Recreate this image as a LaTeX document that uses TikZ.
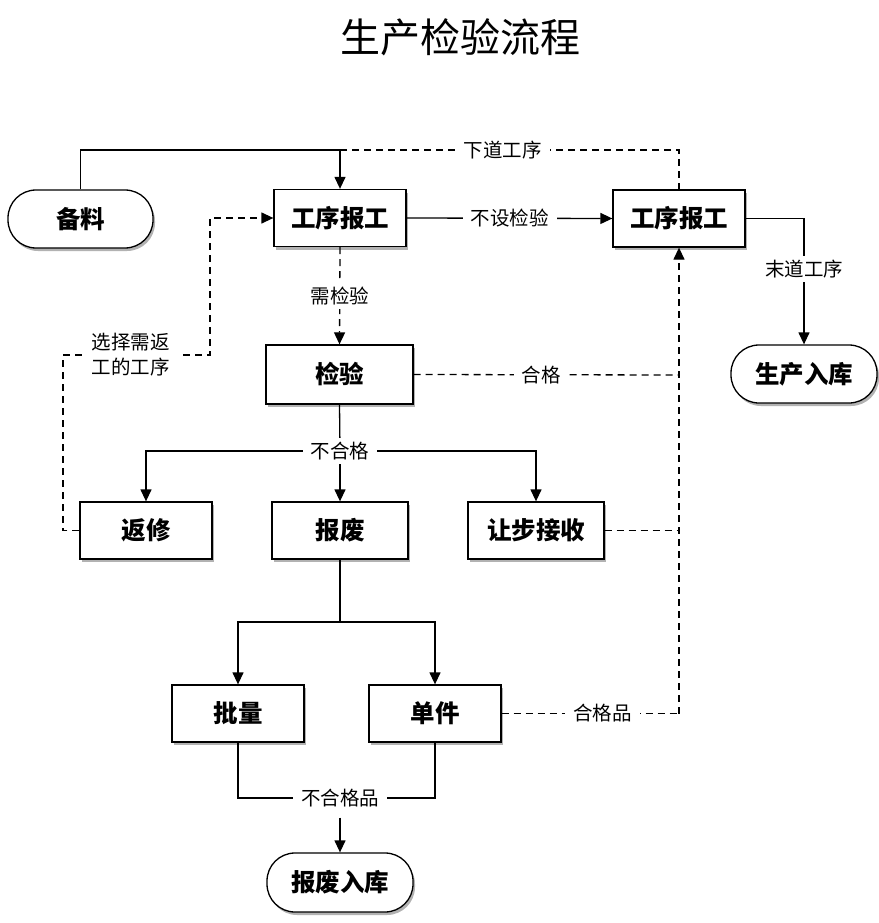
\documentclass[tikz,border=0pt]{standalone}
\usepackage{fontspec}
\setmainfont{Noto Sans CJK SC}
\usetikzlibrary{arrows.meta,shadows}
\begin{document}
\begin{tikzpicture}[x=1pt,y=-1pt,
  line width=1.3pt,
  shd/.style={drop shadow={shadow xshift=2pt,shadow yshift=-3pt,opacity=0.3,fill=black}},
  box/.style={draw,fill=white,shd,minimum width=132pt,minimum height=57pt,inner sep=0pt,
    font=\fontsize{24.5}{27}\selectfont\bfseries},
  term/.style={box,rounded corners=28pt,minimum width=145pt,minimum height=58pt},
  lab/.style={fill=white,inner xsep=8pt,inner ysep=4pt,font=\fontsize{19.5}{25}\selectfont},
  arr/.style={-{Triangle[length=12pt,width=11pt]}},
  dsh/.style={dash pattern=on 7pt off 5pt}
]
\fill[white] (0,0) rectangle (878,923);
\useasboundingbox (0,0) rectangle (878,923);

\node (title) at (460,37) {\fontsize{40}{44}\selectfont 生产检验流程};

\node[term] (bl) at (80.5,219) {备料};
\node[box] (g1) at (340,218) {工序报工};
\node[box] (g2) at (679,218.5) {工序报工};
\node[term,minimum width=146pt] (sc) at (804,374) {生产入库};
\node[box,minimum width=147pt,minimum height=59pt] (jy) at (339.5,374.5) {检验};
\node[box] (fx) at (146,530.5) {返修};
\node[box,minimum width=136pt] (bf) at (340,530.5) {报废};
\node[box,minimum width=136pt] (rb) at (536,530.5) {让步接收};
\node[box] (pl) at (238,713.5) {批量};
\node[box] (dj) at (435,713.5) {单件};
\node[term,minimum width=146pt,minimum height=59pt] (bk) at (340,882.5) {报废入库};

\coordinate (t1) at (340,150);
\coordinate (t2) at (679,150);
\coordinate (r1) at (679,375);
\coordinate (r2) at (679,530.5);
\coordinate (r3) at (679,713.5);
\coordinate (n1) at (340,451);
\coordinate (n2) at (340,622);
\coordinate (n3) at (340,798);
\coordinate (d1) at (63,355);
\coordinate (d2) at (210,355);
\coordinate (d3) at (210,218);

% top connectors
\draw[arr] (bl.north) |- (t1) -- (g1.north);
\draw[dsh] (t1) -- node[lab,pos=0.48] {下道工序} (t2) -- (g2.north);
\draw[arr] (g1.east) -- node[lab] {不设检验} (g2.west);
\draw[arr] (g2.east) -| node[lab,pos=0.7] {末道工序} (sc.north);
\draw[dsh,arr] (g1.south) -- node[lab] {需检验} (jy.north);

% right dashed trunk
\draw[dsh,arr] (r3) -- (g2.south);
\draw[dsh] (jy.east) -- node[lab,pos=0.48] {合格} (r1);
\draw[dsh] (rb.east) -- (r2);
\draw[dsh] (dj.east) -- node[lab,pos=0.57] {合格品} (r3);

% rework loop
\draw[dsh,arr] (fx.west) -| (d1) -- node[lab,align=left,pos=0.46] {选择需返\\工的工序} (d2) -- (d3) -- (g1.west);

% unqualified split
\draw (jy.south) -- (n1);
\draw[arr] (n1) -| (fx.north);
\draw[arr] (n1) -- (bf.north);
\draw[arr] (n1) -| (rb.north);
\node[lab] (l6) at (n1) {不合格};

% scrap split
\draw (bf.south) -- (n2);
\draw[arr] (n2) -| (pl.north);
\draw[arr] (n2) -| (dj.north);

% scrap merge
\draw (pl.south) |- (n3) -| (dj.south);
\node[lab] (l8) at (n3) {不合格品};
\draw[arr,shorten <=6pt] (l8.south) -- (bk.north);
\end{tikzpicture}
\end{document}
